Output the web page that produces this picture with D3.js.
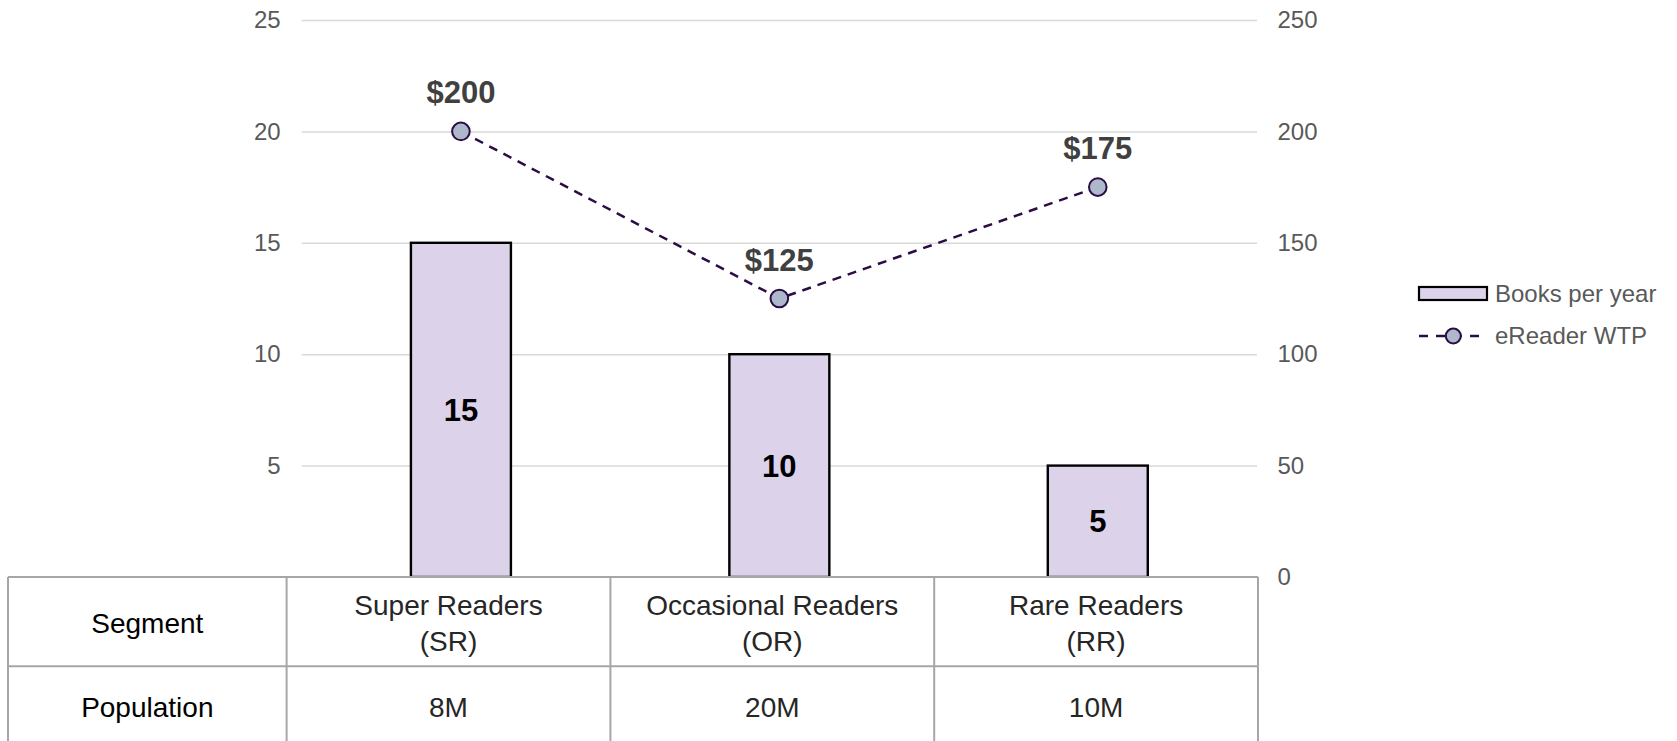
<!DOCTYPE html>
<html>
<head>
<meta charset="utf-8">
<script src="https://cdn.jsdelivr.net/npm/d3@7"></script>
<style>
  html, body { margin: 0; padding: 0; background: #fff; }
  svg { display: block; font-family: "Liberation Sans", Arial, sans-serif; }
</style>
</head>
<body>
<svg id="chart" width="1677" height="741"></svg>
<script>
// ---- data ----
const segments = ["Super Readers", "Occasional Readers", "Rare Readers"];
const segmentCodes = ["(SR)", "(OR)", "(RR)"];
const populations = ["8M", "20M", "10M"];
const booksPerYear = [15, 10, 5];
const wtp = [200, 125, 175];
const wtpLabels = ["$200", "$125", "$175"];
const leftTicks = [5, 10, 15, 20, 25];
const rightTicks = [0, 50, 100, 150, 200, 250];
const rowHeaders = ["Segment", "Population"];
const legendLabels = ["Books per year", "eReader WTP"];

// ---- layout ----
const W = 1677, H = 741;
const plotL = 301.7, plotR = 1257, plotT = 20, plotB = 577;
const svg = d3.select("#chart");

const x = d3.scaleBand().domain(segments).range([plotL, plotR]).padding(0);
const yL = d3.scaleLinear().domain([0, 25]).range([plotB, plotT]);
const yR = d3.scaleLinear().domain([0, 250]).range([plotB, plotT]);

const barColor = "#DCD3EA";
const lineColor = "#2B0D45";
const markerFill = "#ADB9CA";
const gridColor = "#D9D9D9";
const axisText = "#595959";
const tableLine = "#A6A6A6";

// gridlines + left axis
const gLeft = svg.append("g").attr("transform", `translate(${plotL},0)`)
  .call(d3.axisLeft(yL).tickValues(leftTicks).tickSize(-(plotR - plotL)).tickPadding(21));
gLeft.select(".domain").remove();
gLeft.selectAll(".tick line").attr("stroke", gridColor).attr("stroke-width", 1.5);
gLeft.selectAll(".tick text").attr("fill", axisText).attr("font-size", 24)
  .attr("font-family", "Liberation Sans, Arial, sans-serif");

// right axis
const gRight = svg.append("g").attr("transform", `translate(${plotR},0)`)
  .call(d3.axisRight(yR).tickValues(rightTicks).tickSize(0).tickPadding(20.5));
gRight.select(".domain").remove();
gRight.selectAll(".tick text").attr("fill", axisText).attr("font-size", 24)
  .attr("font-family", "Liberation Sans, Arial, sans-serif");

// bars
const barW = x.bandwidth() * 0.314;
svg.append("g").selectAll("rect")
  .data(booksPerYear)
  .join("rect")
  .attr("x", (d, i) => x(segments[i]) + x.bandwidth() / 2 - barW / 2)
  .attr("y", d => yL(d))
  .attr("width", barW)
  .attr("height", d => yL(0) - yL(d))
  .attr("fill", barColor)
  .attr("stroke", "#000")
  .attr("stroke-width", 2.4);

// bar labels
svg.append("g").selectAll("text")
  .data(booksPerYear)
  .join("text")
  .attr("x", (d, i) => x(segments[i]) + x.bandwidth() / 2)
  .attr("y", d => (yL(d) + yL(0)) / 2)
  .attr("dy", "0.36em")
  .attr("text-anchor", "middle")
  .attr("font-size", 31)
  .attr("font-weight", "bold")
  .attr("fill", "#000")
  .text(d => d);

// table
const tableL = 8, tableR = plotR + 1, colStart = 286.6;
const rowTop = [577, 666.3], tableBottom = 760;
const tx = d3.scaleBand().domain(segments).range([colStart, tableR]).padding(0);
const tg = svg.append("g");
tg.append("rect").attr("x", tableL).attr("y", rowTop[0]).attr("width", tableR - tableL)
  .attr("height", tableBottom - rowTop[0]).attr("fill", "#fff");
tg.append("line").attr("x1", tableL).attr("x2", tableR).attr("y1", rowTop[0]).attr("y2", rowTop[0])
  .attr("stroke", tableLine).attr("stroke-width", 2);
tg.append("line").attr("x1", tableL).attr("x2", tableR).attr("y1", rowTop[1]).attr("y2", rowTop[1])
  .attr("stroke", tableLine).attr("stroke-width", 2);
const vx = [tableL, colStart].concat(segments.map(s => tx(s) + tx.bandwidth()));
tg.selectAll("line.v").data(vx).join("line").attr("class", "v")
  .attr("x1", d => d).attr("x2", d => d).attr("y1", rowTop[0]).attr("y2", tableBottom)
  .attr("stroke", tableLine).attr("stroke-width", 2);

// row headers
tg.selectAll("text.rh").data(rowHeaders).join("text").attr("class", "rh")
  .attr("x", (tableL + colStart) / 2)
  .attr("y", (d, i) => [633, 716.5][i])
  .attr("text-anchor", "middle")
  .attr("font-size", 28)
  .attr("fill", "#000")
  .text(d => d);

// segment names
const segText = tg.selectAll("text.seg").data(segments).join("text").attr("class", "seg")
  .attr("text-anchor", "middle")
  .attr("font-size", 28)
  .attr("fill", "#262626");
segText.append("tspan").attr("x", d => tx(d) + tx.bandwidth() / 2).attr("y", 615).text(d => d);
segText.append("tspan").attr("x", d => tx(d) + tx.bandwidth() / 2).attr("y", 651)
  .text((d, i) => segmentCodes[i]);

// populations
tg.selectAll("text.pop").data(populations).join("text").attr("class", "pop")
  .attr("x", (d, i) => tx(segments[i]) + tx.bandwidth() / 2)
  .attr("y", 716.5)
  .attr("text-anchor", "middle")
  .attr("font-size", 28)
  .attr("fill", "#262626")
  .text(d => d);

// line
const linePts = wtp.map((d, i) => [x(segments[i]) + x.bandwidth() / 2, yR(d)]);
svg.append("path")
  .attr("d", d3.line()(linePts))
  .attr("fill", "none")
  .attr("stroke", lineColor)
  .attr("stroke-width", 2.5)
  .attr("stroke-dasharray", "9,7");

svg.append("g").selectAll("circle")
  .data(wtp)
  .join("circle")
  .attr("cx", (d, i) => x(segments[i]) + x.bandwidth() / 2)
  .attr("cy", d => yR(d))
  .attr("r", 8.8)
  .attr("fill", markerFill)
  .attr("stroke", lineColor)
  .attr("stroke-width", 2);

svg.append("g").selectAll("text")
  .data(wtp)
  .join("text")
  .attr("x", (d, i) => x(segments[i]) + x.bandwidth() / 2)
  .attr("y", d => yR(d) - 28)
  .attr("text-anchor", "middle")
  .attr("font-size", 31)
  .attr("font-weight", "bold")
  .attr("fill", "#404040")
  .text((d, i) => wtpLabels[i]);

// legend
const lg = svg.append("g");
lg.append("rect").attr("x", 1419).attr("y", 287).attr("width", 68).attr("height", 13)
  .attr("fill", barColor).attr("stroke", "#000").attr("stroke-width", 2.2);
lg.append("line").attr("x1", 1419).attr("x2", 1487).attr("y1", 336).attr("y2", 336)
  .attr("stroke", lineColor).attr("stroke-width", 2.5).attr("stroke-dasharray", "9,8");
lg.append("circle").attr("cx", 1453.3).attr("cy", 336).attr("r", 7.5)
  .attr("fill", markerFill).attr("stroke", lineColor).attr("stroke-width", 2);
lg.selectAll("text").data(legendLabels).join("text")
  .attr("x", 1495)
  .attr("y", (d, i) => [302, 344][i])
  .attr("font-size", 24)
  .attr("fill", axisText)
  .text(d => d);
</script>
</body>
</html>
